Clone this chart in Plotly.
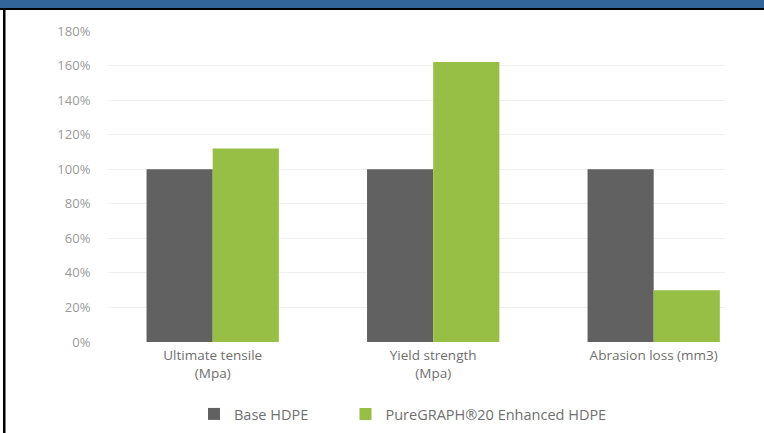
import plotly.graph_objects as go

categories = ["Ultimate tensile<br>(Mpa)", "Yield strength<br>(Mpa)", "Abrasion loss (mm3)"]
base_hdpe = [100, 100, 100]
puregraph = [112, 162, 30]
series_names = ["Base HDPE", "PureGRAPH®20 Enhanced HDPE"]
y_ticks = [0, 20, 40, 60, 80, 100, 120, 140, 160, 180]
y_ticklabels = [f"{v}%" for v in y_ticks]

xpos = list(range(len(categories)))
FONT = "Open Sans"

W, H = 764, 433
L, R, T, B = 108, 764 - 725, 31, 433 - 342
pw, ph = W - L - R, H - T - B


def px(x):
    return (x - L) / pw


def py(y):
    return (H - B - y) / ph


fig = go.Figure()
fig.add_trace(go.Bar(x=xpos, y=base_hdpe, name=series_names[0], legend="legend",
                     marker=dict(color="#616161", line=dict(width=0))))
fig.add_trace(go.Bar(x=xpos, y=puregraph, name=series_names[1], legend="legend2",
                     marker=dict(color="#97bf45", line=dict(width=0))))

shapes = [
    dict(type="rect", xref="paper", yref="paper", x0=px(0), x1=px(W), y0=py(8), y1=py(0),
         fillcolor="#326599", line=dict(width=0), layer="above"),
    dict(type="rect", xref="paper", yref="paper", x0=px(0), x1=px(W), y0=py(10), y1=py(8),
         fillcolor="#000000", line=dict(width=0), layer="above"),
    dict(type="rect", xref="paper", yref="paper", x0=px(3), x1=px(5.5), y0=py(H), y1=py(8),
         fillcolor="#000000", line=dict(width=0), layer="above"),
]

legend_common = dict(orientation="h", yanchor="middle", y=py(414), xanchor="left",
                     font=dict(size=14.5, color="#707070"), bgcolor="rgba(0,0,0,0)",
                     borderwidth=0)

fig.update_layout(
    width=W, height=H,
    margin=dict(l=L, r=R, t=T, b=B, pad=0, autoexpand=False),
    paper_bgcolor="white", plot_bgcolor="white",
    barmode="group", bargap=0.4, bargroupgap=0,
    font=dict(family=FONT, color="#777777"),
    xaxis=dict(tickmode="array", tickvals=xpos, ticktext=categories,
               range=[-0.4748, 2.3234], showgrid=False, zeroline=False,
               showline=False, ticks="outside", ticklen=1, tickcolor="rgba(0,0,0,0)",
               tickfont=dict(size=13.5, color="#6f6f6f")),
    yaxis=dict(range=[0, 180], tickmode="array", tickvals=y_ticks, ticktext=y_ticklabels,
               showgrid=True, gridcolor="#f0f0f0", gridwidth=1, zeroline=False,
               showline=False, ticks="outside", ticklen=14, tickcolor="rgba(0,0,0,0)",
               tickfont=dict(size=13, color="#9a9a9a")),
    legend=dict(x=px(194), **legend_common),
    legend2=dict(x=px(345.5), **legend_common),
    shapes=shapes,
    showlegend=True,
)

fig.write_html("out.html")
